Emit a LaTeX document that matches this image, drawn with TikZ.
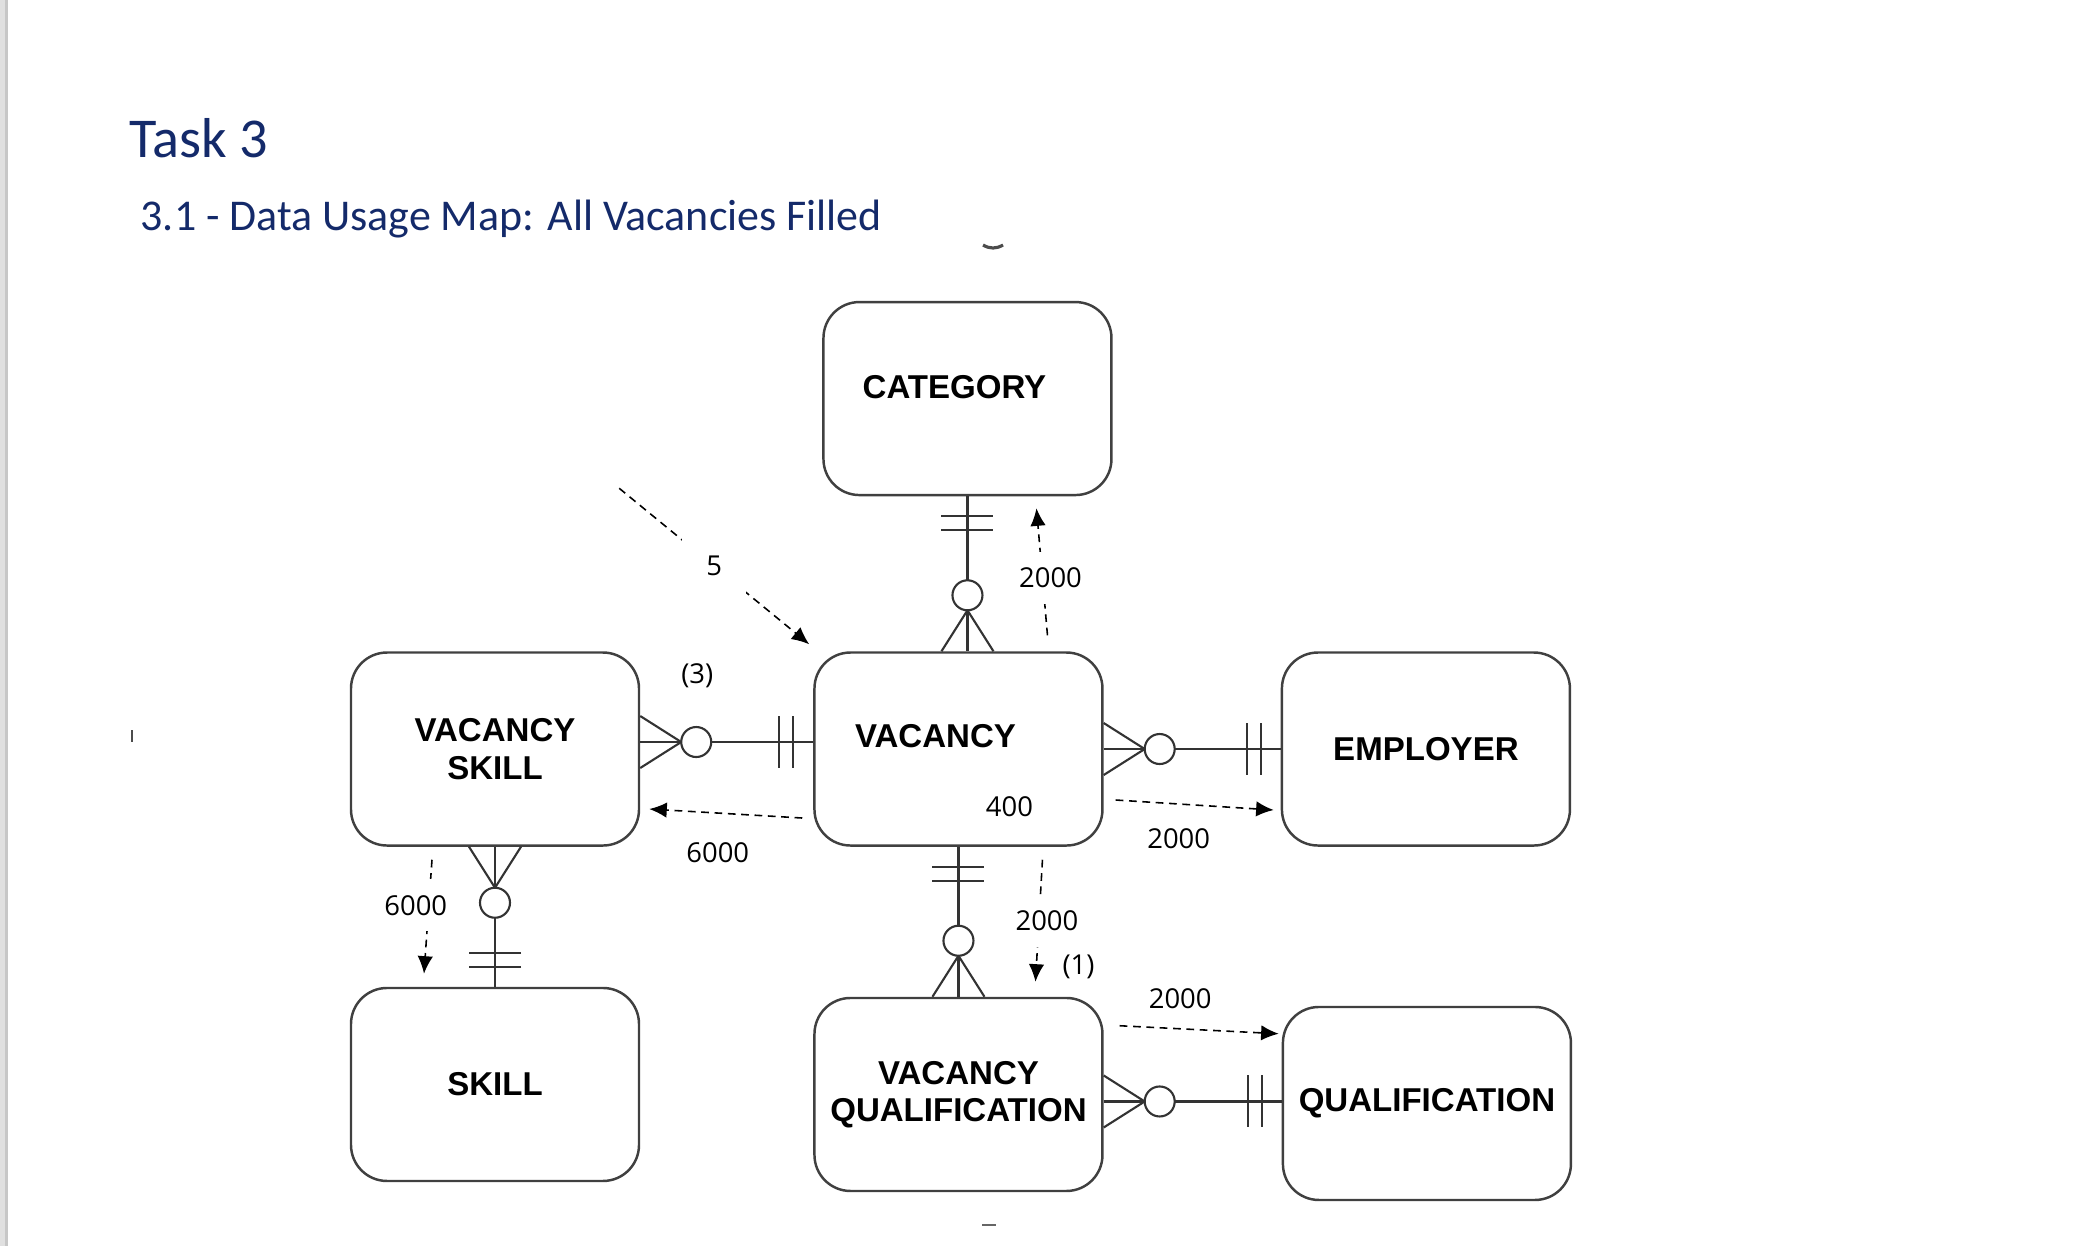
\documentclass[tikz,border=0pt]{standalone}
\usepackage{fontspec}
\usepackage{xcolor}
\usepackage{tikz}
\usetikzlibrary{arrows.meta,positioning,calc}

\newfontfamily\headfont{Carlito}
\newfontfamily\boxfont{Liberation Sans}
\newfontfamily\countfont{Open Sans}
\definecolor{headblue}{HTML}{142A6A}

\begin{document}
\begin{tikzpicture}[
    entity/.style={rectangle, draw=black!75, line width=0.7pt, rounded corners=0.36cm, minimum width=2.88cm, minimum height=1.93cm, align=center, font=\boxfont\bfseries\fontsize{9.4}{10.6}\selectfont},
    etext/.style={inner sep=0pt, font=\boxfont\bfseries\fontsize{9.4}{10.6}\selectfont},
    rel/.style={draw=black!80, line width=0.6pt},
    flow/.style={line width=0.45pt, dash pattern=on 2.2pt off 1.6pt, -{Latex[length=5pt,width=4.4pt]}},
    num/.style={font=\countfont\fontsize{7.8}{9}\selectfont, inner sep=1pt},
    gap/.style={num, fill=white, inner xsep=1.5pt, inner ysep=4.5pt},
    manyside/.pic={
        \draw[rel] (0,0.26) -- (0.41,0) -- (0,-0.26);
        \draw[rel, fill=white] (0.56,0) circle (0.15);
    },
    oneside/.pic={
        \draw[rel] (0.2,-0.26) -- (0.2,0.26) (0.34,-0.26) -- (0.34,0.26);
    }
]
\useasboundingbox (0,0) rectangle (20.84,-12.46);

% Page edge and headings
\fill[black!12] (0,0) rectangle (0.07,-12.46);
\draw[black!22, line width=0.8pt] (0.065,0) -- (0.065,-12.46);
\node[anchor=base west, inner sep=0pt, text=headblue, font=\headfont\fontsize{16}{19}\selectfont] (task) at (1.29,-1.57) {Task 3};
\node[anchor=base west, inner sep=0pt, text=headblue, font=\headfont\fontsize{12.5}{15}\selectfont] (subtitle) at (1.40,-2.30) {3.1 - Data Usage Map: All Vacancies Filled};

% Entities
\node[entity] (vskill) at (4.95,-7.49) {VACANCY\\SKILL};
\node[entity, right=1.73cm of vskill] (vacancy) {};
\node[entity, above=1.55cm of vacancy, xshift=0.09cm] (category) {};
\node[entity, right=1.77cm of vacancy] (employer) {EMPLOYER};
\node[entity, below=1.40cm of vskill] (skill) {SKILL};
\node[entity, below=1.50cm of vacancy] (vqual) {VACANCY\\QUALIFICATION};
\node[entity, right=1.78cm of vqual, yshift=-0.09cm] (qual) {QUALIFICATION};
\node[etext] (categorytext) at ([shift={(-0.13,0.11)}]category.center) {CATEGORY};
\node[etext] (vacancytext) at ([shift={(-0.23,0.13)}]vacancy.center) {VACANCY};

% Relationships
\draw[rel] (category.south) -- (category.south |- vacancy.north);
\pic[rotate=90] at (category.south |- vacancy.north) {manyside};
\pic[rotate=-90] at (category.south) {oneside};

\draw[rel] ([yshift=0.07cm]vskill.east) -- ([yshift=0.07cm]vacancy.west);
\pic at ([yshift=0.07cm]vskill.east) {manyside};
\pic[rotate=180] at ([yshift=0.07cm]vacancy.west) {oneside};

\draw[rel] (vacancy.east) -- (employer.west);
\pic at (vacancy.east) {manyside};
\pic[rotate=180] at (employer.west) {oneside};

\draw[rel] (vacancy.south) -- (vqual.north);
\pic[rotate=90] at (vqual.north) {manyside};
\pic[rotate=-90] at (vacancy.south) {oneside};

\draw[rel] (vskill.south) -- (skill.north);
\pic[rotate=-90] at (vskill.south) {manyside};
\pic[rotate=90] at (skill.north) {oneside};

\draw[rel] ([yshift=-0.07cm]vqual.east) -- ([yshift=-0.07cm]vqual.east -| qual.west);
\pic at ([yshift=-0.07cm]vqual.east) {manyside};
\pic[rotate=180] at ([yshift=-0.07cm]vqual.east -| qual.west) {oneside};

% Access paths
\coordinate (entry) at ([shift={(-1.94,1.63)}]vacancy.north west);
\draw[flow] (entry) -- node[gap, minimum size=0.64cm] (fivetext) {5} ([shift={(-0.04,0.07)}]vacancy.north west);
\draw[flow] ([shift={(0.89,0.16)}]vacancy.north) -- node[gap, pos=0.45, xshift=0.08cm] (cattext) {2000} ([shift={(0.69,-0.12)}]category.south);
\draw[flow] ([shift={(-0.11,-0.69)}]vacancy.west) -- node[num, midway, yshift=-0.39cm, xshift=-0.08cm] (vstext) {6000} ([shift={(0.09,-0.6)}]vskill.east);
\draw[flow] ([shift={(-0.63,-0.13)}]vskill.south) -- node[gap, pos=0.4, xshift=-0.13cm] (skilltext) {6000} ([shift={(-0.71,0.13)}]skill.north);
\draw[flow] ([shift={(0.12,-0.51)}]vacancy.east) -- node[num, midway, yshift=-0.34cm, xshift=-0.16cm] (emptext) {2000} ([shift={(-0.07,-0.61)}]employer.west);
\draw[flow] ([shift={(0.84,-0.13)}]vacancy.south) -- node[gap, midway, xshift=0.08cm] (vqtext) {2000} ([shift={(0.77,0.15)}]vqual.north);
\draw[flow] ([shift={(0.16,-0.29)}]vqual.north east) -- node[num, midway, yshift=0.31cm, xshift=-0.19cm] (qualtext) {2000} ([shift={(-0.03,-0.28)}]qual.north west);

% Counts
\node[num] (vacancycount) at ([shift={(0.51,-0.58)}]vacancy.center) {400};
\node[num] (skillcount) at ([shift={(0.57,-0.24)}]vskill.north east) {(3)};
\node[num] (qualcount) at ([shift={(1.20,0.30)}]vqual.north) {(1)};

% Stray marks
\draw[black!70, line width=0.9pt] (9.83,-2.45) .. controls (9.9,-2.49) and (9.96,-2.49) .. (10.03,-2.45);
\draw[black!60, line width=0.6pt] (9.82,-12.25) -- (9.96,-12.25);
\fill[black!70] (1.31,-7.30) rectangle (1.33,-7.42);

\end{tikzpicture}
\end{document}
